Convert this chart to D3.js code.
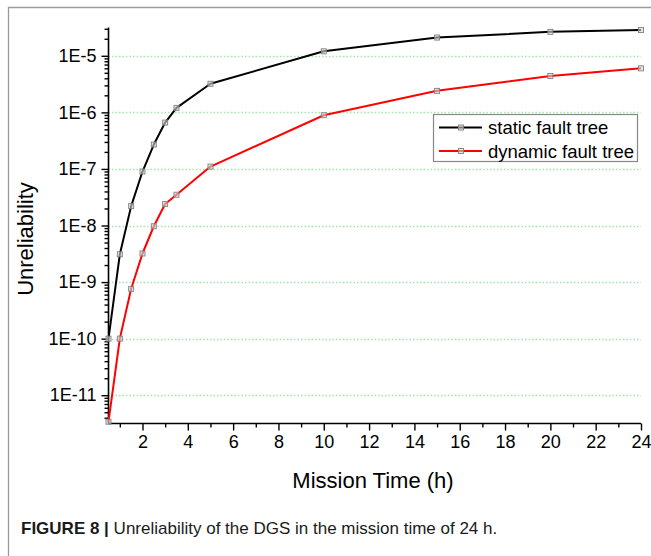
<!DOCTYPE html>
<html>
<head>
<meta charset="utf-8">
<script src="https://cdn.jsdelivr.net/npm/d3@7"></script>
<style>
  html, body { margin: 0; padding: 0; background: #fff; }
  svg { display: block; }
  text { font-family: "Liberation Sans", Arial, Helvetica, sans-serif; }
</style>
</head>
<body>
<svg id="chart" width="651" height="556"></svg>
<script>
// ---- data ----
const missionTime = [0.5, 1, 1.5, 2, 2.5, 3, 3.5, 5, 10, 15, 20, 24];
const staticFaultTree = [1.0e-10, 3.1e-9, 2.2e-8, 9.0e-8, 2.7e-7, 6.6e-7, 1.2e-6, 3.2e-6, 1.2e-5, 2.1e-5, 2.65e-5, 2.85e-5];
const dynamicFaultTree = [3.4e-12, 1.0e-10, 7.6e-10, 3.2e-9, 9.7e-9, 2.4e-8, 3.5e-8, 1.1e-7, 8.9e-7, 2.4e-6, 4.4e-6, 6.0e-6];
const seriesNames = ["static fault tree", "dynamic fault tree"];
const seriesColors = ["#000000", "#ff0000"];
const xTickValues = [2, 4, 6, 8, 10, 12, 14, 16, 18, 20, 22, 24];
const xMinorTicks = [1, 3, 5, 7, 9, 11, 13, 15, 17, 19, 21, 23];
const yTickValues = [1e-11, 1e-10, 1e-9, 1e-8, 1e-7, 1e-6, 1e-5];
const yTickLabels = ["1E-11", "1E-10", "1E-9", "1E-8", "1E-7", "1E-6", "1E-5"];
const xTitle = "Mission Time (h)";
const yTitle = "Unreliability";
const captionBold = "FIGURE 8 | ";
const captionText = "Unreliability of the DGS in the mission time of 24 h.";

const svg = d3.select("#chart");

// outer frame
svg.append("path")
  .attr("d", "M8.5,560 L8.5,7.5 L660,7.5")
  .attr("fill", "none").attr("stroke", "#9a9a9a").attr("stroke-width", 1.3);

const x = d3.scaleLinear().domain([0.5, 24]).range([108.5, 641]);
const y = d3.scaleLog().domain([Math.pow(10, -11.5), Math.pow(10, -4.5)]).range([423.5, 27.5]);

// grid
svg.append("g").selectAll("line").data(yTickValues).join("line")
  .attr("x1", x(0.5)).attr("x2", x(24))
  .attr("y1", d => Math.round(y(d)) + 0.5).attr("y2", d => Math.round(y(d)) + 0.5)
  .attr("stroke", "#9ee8a8").attr("stroke-width", 1.3).attr("stroke-dasharray", "1.5,2");

// y minor ticks
const yMinor = [];
for (let e = -12; e <= -5; e++) for (let m = 2; m <= 9; m++) {
  const v = m * Math.pow(10, e);
  if (v >= y.domain()[0] && v <= y.domain()[1]) yMinor.push(v);
}
const yMinorAxis = d3.axisLeft(y).tickValues(yMinor).tickSize(4).tickFormat("");
const gyMinor = svg.append("g").attr("transform", `translate(${x(0.5)},0)`).call(yMinorAxis);
gyMinor.select(".domain").remove();

const yAxis = d3.axisLeft(y).tickValues(yTickValues).tickSize(7).tickPadding(5)
  .tickFormat((d, i) => yTickLabels[i]);
const gy = svg.append("g").attr("transform", `translate(${x(0.5)},0)`).call(yAxis);
gy.select(".domain").attr("d", `M0,${y.range()[1]}V${y.range()[0]}`);

// x axis
const xMinorAxis = d3.axisBottom(x).tickValues(xMinorTicks).tickSize(4).tickFormat("");
const gxMinor = svg.append("g").attr("transform", `translate(0,${y.range()[0]})`).call(xMinorAxis);
gxMinor.select(".domain").remove();
const xAxis = d3.axisBottom(x).tickValues(xTickValues).tickSize(7).tickPadding(5).tickFormat(d3.format("d"));
const gx = svg.append("g").attr("transform", `translate(0,${y.range()[0]})`).call(xAxis);
gx.select(".domain").attr("d", `M${x.range()[0]},0H${x.range()[1]}`);

svg.selectAll(".tick line").attr("stroke", "#000").attr("stroke-width", 1.4);
svg.selectAll(".domain").attr("stroke", "#000").attr("stroke-width", 1.6);
svg.selectAll(".tick text").attr("font-size", 18).attr("fill", "#000")
  .style("font-family", '"Liberation Sans", Arial, sans-serif');

// titles
svg.append("text").attr("x", 373).attr("y", 488).attr("text-anchor", "middle")
  .attr("font-size", 22).text(xTitle);
svg.append("text").attr("transform", "translate(33,239) rotate(-90)").attr("text-anchor", "middle")
  .attr("font-size", 22).text(yTitle);

// lines
const series = [staticFaultTree, dynamicFaultTree];
const line = d3.line().x((d, i) => x(missionTime[i])).y(d => y(d));
series.forEach((vals, si) => {
  svg.append("path").datum(vals).attr("d", line)
    .attr("fill", "none").attr("stroke", seriesColors[si]).attr("stroke-width", 2)
    .attr("stroke-linejoin", "round");
  svg.append("g").selectAll("rect").data(vals).join("rect")
    .attr("x", (d, i) => x(missionTime[i]) - 2.5).attr("y", d => y(d) - 2.5)
    .attr("width", 5).attr("height", 5)
    .attr("fill", "#d4d4d4").attr("fill-opacity", 0.6)
    .attr("stroke", "#808080").attr("stroke-width", 0.9);
});

// legend
const lg = svg.append("g");
lg.append("rect").attr("x", 433.5).attr("y", 114.5).attr("width", 204).attr("height", 47)
  .attr("fill", "#fff").attr("stroke", "#888").attr("stroke-width", 1.2);
seriesNames.forEach((name, i) => {
  const yy = 127.5 + i * 23.5;
  lg.append("line").attr("x1", 439).attr("x2", 482).attr("y1", yy).attr("y2", yy)
    .attr("stroke", seriesColors[i]).attr("stroke-width", 2);
  lg.append("rect").attr("x", 458.5).attr("y", yy - 2.5).attr("width", 5).attr("height", 5)
    .attr("fill", "#d4d4d4").attr("fill-opacity", 0.6).attr("stroke", "#808080").attr("stroke-width", 0.9);
  lg.append("text").attr("x", 488).attr("y", yy + 6.5).attr("font-size", 18.5).text(name);
});

// caption
const cap = svg.append("text").attr("x", 21).attr("y", 534).attr("font-size", 17).attr("fill", "#1a1a1a");
cap.append("tspan").attr("font-weight", "bold").text(captionBold);
cap.append("tspan").text(captionText);
</script>
</body>
</html>
